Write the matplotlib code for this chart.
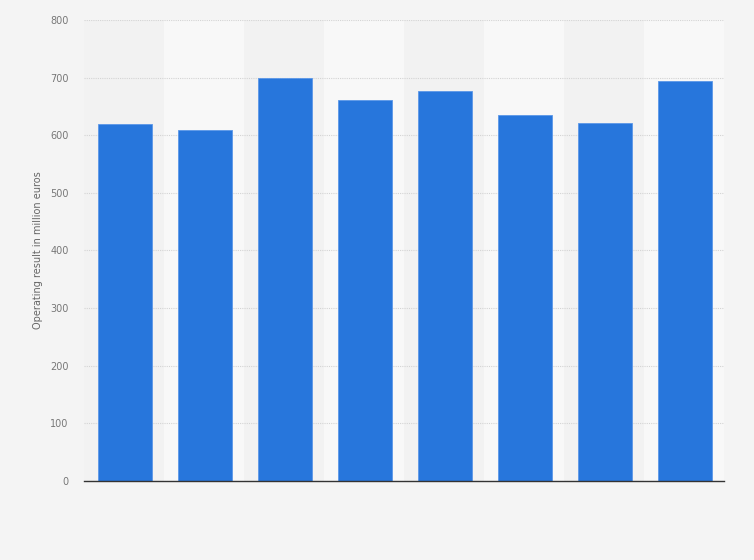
import numpy as np
import matplotlib.pyplot as plt

# values (no category labels shown)
categories = ["1", "2", "3", "4", "5", "6", "7", "8"]
operating_result = [620, 609, 700, 661, 676, 636, 622, 695]
y_ticks = [0, 100, 200, 300, 400, 500, 600, 700, 800]

fig = plt.figure(figsize=(7.54, 5.60), dpi=100)
fig.patch.set_facecolor("#f4f4f4")
ax = fig.add_axes([84 / 754, 1 - 481 / 560, 640 / 754, 461 / 560])
ax.set_facecolor("#f2f2f2")

x = np.arange(len(categories))
# alternating column bands
for i in x:
    if i % 2 == 1:
        ax.axvspan(i - 0.5, i + 0.5, color="#f8f8f8", zorder=0, lw=0)

ax.bar(x + 0.01, operating_result, width=0.68, color="#2776dc", edgecolor="#5b97e8",
       linewidth=0.6, zorder=3)

ax.set_xlim(-0.5, len(categories) - 0.5)
ax.set_ylim(0, 800)
ax.set_yticks(y_ticks)
ax.set_yticklabels([str(t) for t in y_ticks], fontsize=7, color="#777777")
ax.set_xticks([])
ax.tick_params(axis="y", length=0, pad=11)
ax.grid(axis="y", color="#d4d4d4", linestyle=(0, (1, 1)), linewidth=0.8, zorder=1)
ax.set_axisbelow(True)

for s in ["top", "right", "left"]:
    ax.spines[s].set_visible(False)
ax.spines["bottom"].set_color("#333333")
ax.spines["bottom"].set_linewidth(1.0)
ax.spines["bottom"].set_zorder(4)

ax.set_ylabel("Operating result in million euros", fontsize=7, color="#666666", labelpad=5)

fig.savefig("out.png", dpi=100, facecolor=fig.get_facecolor())
